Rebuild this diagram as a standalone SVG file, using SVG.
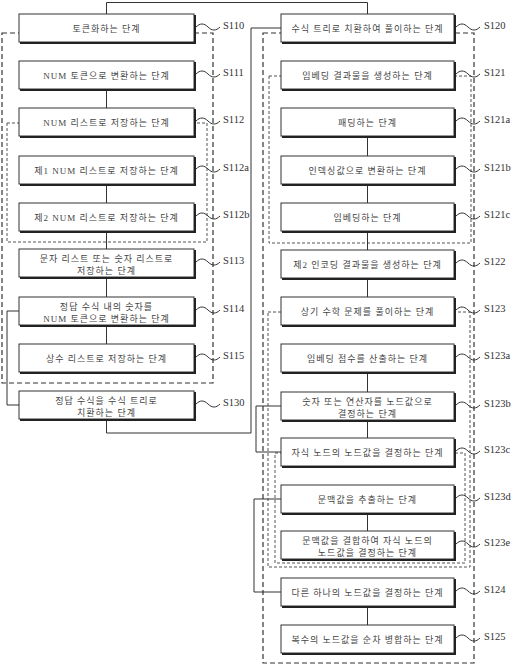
<svg xmlns="http://www.w3.org/2000/svg" width="520" height="666" viewBox="0 0 520 666">
<style>
.bg{fill:#fff}
.box{fill:#fff;stroke:#333;stroke-width:1}
.sh{fill:none;stroke:#222;stroke-width:2}
.t{font-family:"Liberation Serif","Noto Sans CJK KR",serif;font-size:9px;letter-spacing:1px;fill:#444;text-anchor:middle}
.lbl{font-family:"Liberation Serif",serif;font-size:10.5px;fill:#333}
.conn{fill:none;stroke:#333;stroke-width:1}
.sq{fill:none;stroke:#333;stroke-width:1}
.d1{fill:none;stroke:#333;stroke-width:1.2;stroke-dasharray:5 3}
.d2{fill:none;stroke:#555;stroke-width:1;stroke-dasharray:3 2}
</style>
<defs>
<g id="bl"><rect class="box" x="0" y="0" width="175" height="28"/><path class="sh" d="M176,1 V29 H1"/></g>
<g id="br"><rect class="box" x="0" y="0" width="173" height="28"/><path class="sh" d="M174,1 V29 H1"/></g>
</defs>
<rect class="bg" width="520" height="666"/>
<g id="groups">
<rect class="d1" x="2" y="33" width="211" height="350"/>
<rect class="d2" x="7" y="123" width="200" height="119"/>
<rect class="d1" x="263" y="33" width="211" height="630"/>
<rect class="d2" x="269" y="76" width="202" height="167"/>
<rect class="d2" x="268" y="312" width="202" height="255"/>
<rect class="d2" x="275" y="453" width="190" height="110"/>
</g>
<g id="connectors">
<path class="conn" d="M106.5,89 V108 M106.5,184 V203 M106.5,231 V249 M106.5,277 V297 M106.5,325 V344"/>
<path class="conn" d="M106.5,14 V2.5 H367.5 V14"/>
<path class="conn" d="M106.5,419 V433 H251 V28 H281"/>
<path class="conn" d="M19,311 H7 V405 H19"/>
<path class="conn" d="M367.5,136 V156 M367.5,184 V203 M367.5,231 V250 M367.5,278 V297 M367.5,372 V392 M367.5,420 V438 M367.5,513 V531 M367.5,606 V625"/>
<path class="conn" d="M281,406 H256 V452 H281"/>
<path class="conn" d="M281,499 H254 V592 H281"/>
</g>
<g id="S110"><use href="#bl" x="19" y="14"/><text class="t" x="106.5" y="31.5">토큰화하는 단계</text><path class="sq" d="M196,27 c4,-4 8,-4 12,0 s8,4 12,0"/><text class="lbl" x="223" y="29">S110</text></g>
<g id="S111"><use href="#bl" x="19" y="61"/><text class="t" x="106.5" y="78.5">NUM 토큰으로 변환하는 단계</text><path class="sq" d="M196,74 c4,-4 8,-4 12,0 s8,4 12,0"/><text class="lbl" x="223" y="76">S111</text></g>
<g id="S112"><use href="#bl" x="19" y="108"/><text class="t" x="106.5" y="125.5">NUM 리스트로 저장하는 단계</text><path class="sq" d="M196,121 c4,-4 8,-4 12,0 s8,4 12,0"/><text class="lbl" x="223" y="123">S112</text></g>
<g id="S112a"><use href="#bl" x="19" y="156"/><text class="t" x="106.5" y="173.5">제1 NUM 리스트로 저장하는 단계</text><path class="sq" d="M196,169 c4,-4 8,-4 12,0 s8,4 12,0"/><text class="lbl" x="223" y="171">S112a</text></g>
<g id="S112b"><use href="#bl" x="19" y="203"/><text class="t" x="106.5" y="220.5">제2 NUM 리스트로 저장하는 단계</text><path class="sq" d="M196,216 c4,-4 8,-4 12,0 s8,4 12,0"/><text class="lbl" x="223" y="218">S112b</text></g>
<g id="S113"><use href="#bl" x="19" y="249"/><text class="t" x="106.5" y="261.5">문자 리스트 또는 숫자 리스트로</text><text class="t" x="106.5" y="274">저장하는 단계</text><path class="sq" d="M196,262 c4,-4 8,-4 12,0 s8,4 12,0"/><text class="lbl" x="223" y="264">S113</text></g>
<g id="S114"><use href="#bl" x="19" y="297"/><text class="t" x="106.5" y="309.5">정답 수식 내의 숫자를</text><text class="t" x="106.5" y="322">NUM 토큰으로 변환하는 단계</text><path class="sq" d="M196,310 c4,-4 8,-4 12,0 s8,4 12,0"/><text class="lbl" x="223" y="312">S114</text></g>
<g id="S115"><use href="#bl" x="19" y="344"/><text class="t" x="106.5" y="361.5">상수 리스트로 저장하는 단계</text><path class="sq" d="M196,357 c4,-4 8,-4 12,0 s8,4 12,0"/><text class="lbl" x="223" y="359">S115</text></g>
<g id="S130"><use href="#bl" x="19" y="391"/><text class="t" x="106.5" y="403.5">정답 수식을 수식 트리로</text><text class="t" x="106.5" y="416">치환하는 단계</text><path class="sq" d="M196,404 c4,-4 8,-4 12,0 s8,4 12,0"/><text class="lbl" x="223" y="406">S130</text></g>
<g id="S120"><use href="#br" x="281" y="14"/><text class="t" x="367.5" y="31.5">수식 트리로 치환하여 풀이하는 단계</text><path class="sq" d="M456,27 c4,-4 8,-4 12,0 s8,4 12,0"/><text class="lbl" x="484" y="29">S120</text></g>
<g id="S121"><use href="#br" x="281" y="61"/><text class="t" x="367.5" y="78.5">임베딩 결과물을 생성하는 단계</text><path class="sq" d="M456,74 c4,-4 8,-4 12,0 s8,4 12,0"/><text class="lbl" x="484" y="76">S121</text></g>
<g id="S121a"><use href="#br" x="281" y="108"/><text class="t" x="367.5" y="125.5">패딩하는 단계</text><path class="sq" d="M456,121 c4,-4 8,-4 12,0 s8,4 12,0"/><text class="lbl" x="484" y="123">S121a</text></g>
<g id="S121b"><use href="#br" x="281" y="156"/><text class="t" x="367.5" y="173.5">인덱싱값으로 변환하는 단계</text><path class="sq" d="M456,169 c4,-4 8,-4 12,0 s8,4 12,0"/><text class="lbl" x="484" y="171">S121b</text></g>
<g id="S121c"><use href="#br" x="281" y="203"/><text class="t" x="367.5" y="220.5">임베딩하는 단계</text><path class="sq" d="M456,216 c4,-4 8,-4 12,0 s8,4 12,0"/><text class="lbl" x="484" y="218">S121c</text></g>
<g id="S122"><use href="#br" x="281" y="250"/><text class="t" x="367.5" y="267.5">제2 인코딩 결과물을 생성하는 단계</text><path class="sq" d="M456,263 c4,-4 8,-4 12,0 s8,4 12,0"/><text class="lbl" x="484" y="265">S122</text></g>
<g id="S123"><use href="#br" x="281" y="297"/><text class="t" x="367.5" y="314.5">상기 수학 문제를 풀이하는 단계</text><path class="sq" d="M456,310 c4,-4 8,-4 12,0 s8,4 12,0"/><text class="lbl" x="484" y="312">S123</text></g>
<g id="S123a"><use href="#br" x="281" y="344"/><text class="t" x="367.5" y="361.5">임베딩 점수를 산출하는 단계</text><path class="sq" d="M456,357 c4,-4 8,-4 12,0 s8,4 12,0"/><text class="lbl" x="484" y="359">S123a</text></g>
<g id="S123b"><use href="#br" x="281" y="392"/><text class="t" x="367.5" y="404.5">숫자 또는 연산자를 노드값으로</text><text class="t" x="367.5" y="417">결정하는 단계</text><path class="sq" d="M456,405 c4,-4 8,-4 12,0 s8,4 12,0"/><text class="lbl" x="484" y="407">S123b</text></g>
<g id="S123c"><use href="#br" x="281" y="438"/><text class="t" x="367.5" y="455.5">자식 노드의 노드값을 결정하는 단계</text><path class="sq" d="M456,451 c4,-4 8,-4 12,0 s8,4 12,0"/><text class="lbl" x="484" y="453">S123c</text></g>
<g id="S123d"><use href="#br" x="281" y="485"/><text class="t" x="367.5" y="502.5">문맥값을 추출하는 단계</text><path class="sq" d="M456,498 c4,-4 8,-4 12,0 s8,4 12,0"/><text class="lbl" x="484" y="500">S123d</text></g>
<g id="S123e"><use href="#br" x="281" y="531"/><text class="t" x="367.5" y="543.5">문맥값을 결합하여 자식 노드의</text><text class="t" x="367.5" y="556">노드값을 결정하는 단계</text><path class="sq" d="M456,544 c4,-4 8,-4 12,0 s8,4 12,0"/><text class="lbl" x="484" y="546">S123e</text></g>
<g id="S124"><use href="#br" x="281" y="578"/><text class="t" x="367.5" y="595.5">다른 하나의 노드값을 결정하는 단계</text><path class="sq" d="M456,591 c4,-4 8,-4 12,0 s8,4 12,0"/><text class="lbl" x="484" y="593">S124</text></g>
<g id="S125"><use href="#br" x="281" y="625"/><text class="t" x="367.5" y="642.5">복수의 노드값을 순차 병합하는 단계</text><path class="sq" d="M456,638 c4,-4 8,-4 12,0 s8,4 12,0"/><text class="lbl" x="484" y="640">S125</text></g>
</svg>
